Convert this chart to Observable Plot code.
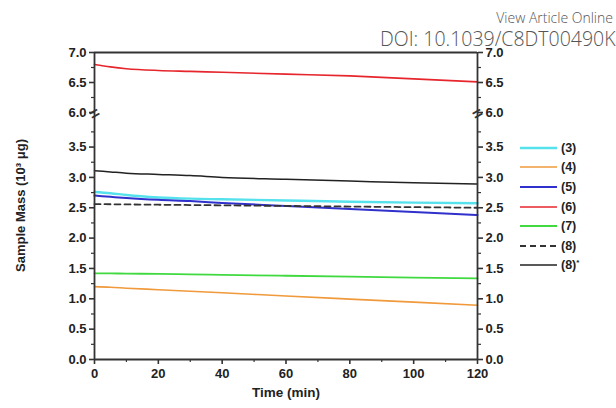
<!DOCTYPE html>
<html><head><meta charset="utf-8">
<script src="https://cdn.jsdelivr.net/npm/d3@7"></script>
<script src="https://cdn.jsdelivr.net/npm/@observablehq/plot@0.6"></script>
<style>
html,body{margin:0;padding:0;background:#fff;}
body{width:616px;height:408px;overflow:hidden;position:relative;font-family:"Liberation Sans",Arial,sans-serif;}
.chart{position:absolute;left:0;top:0;}
.wm{position:absolute;font-family:"Open Sans",sans-serif;font-weight:300;color:#555;line-height:1;white-space:nowrap;}
#wmA{top:11px;right:3px;font-size:14px;}
#wmB{top:29px;left:380px;font-size:19.5px;}
#legend{position:absolute;left:520px;top:138px;font-weight:bold;font-size:12.5px;color:#222;}
#legend .row{display:flex;align-items:center;height:19.6px;}
#legend .row span{margin-left:4px;}
</style></head>
<body>
<div id="lower" class="chart"></div>
<div id="upper" class="chart"></div>
<div id="ylab" class="chart"></div>
<div id="wmA" class="wm">View Article Online</div>
<div id="wmB" class="wm">DOI: 10.1039/C8DT00490K</div>
<div id="legend"></div>
<script>
const times = [0, 5, 10, 20, 30, 40, 60, 80, 100, 120];
const s3 = [2.76, 2.74, 2.71, 2.67, 2.65, 2.64, 2.62, 2.60, 2.585, 2.575];
const s4 = [1.20, 1.19, 1.175, 1.15, 1.125, 1.10, 1.045, 0.995, 0.945, 0.895];
const s5 = [2.70, 2.68, 2.66, 2.63, 2.61, 2.58, 2.53, 2.48, 2.43, 2.38];
const s6 = [6.80, 6.76, 6.73, 6.70, 6.685, 6.67, 6.64, 6.61, 6.56, 6.51];
const s7 = [1.42, 1.418, 1.415, 1.41, 1.402, 1.395, 1.38, 1.365, 1.35, 1.335];
const s8 = [2.56, 2.558, 2.555, 2.55, 2.545, 2.54, 2.53, 2.52, 2.51, 2.50];
const s8s = [3.11, 3.09, 3.07, 3.05, 3.03, 3.00, 2.97, 2.94, 2.91, 2.89];

const seriesNames = ["(3)", "(4)", "(5)", "(6)", "(7)", "(8)", "(8)*"];
const seriesValues = [s3, s4, s5, s6, s7, s8, s8s];
const seriesColors = ["#55e2ec", "#f09a3c", "#3030cc", "#e6262c", "#40da40", "#333333", "#222222"];
const seriesWidths = [2.4, 1.6, 2, 1.6, 1.8, 1.8, 1.5];
const seriesDash = [null, null, null, null, null, "6,4", null];

const lowerDomain = [0, 4.02];
const upperDomain = [5.95, 7];
const yMajorLower = [0, 0.5, 1.0, 1.5, 2.0, 2.5, 3.0, 3.5];
const yMinorLower = [0.25, 0.75, 1.25, 1.75, 2.25, 2.75, 3.25, 3.75];
const yMajorUpper = [6.0, 6.5, 7.0];
const yMinorUpper = [6.25, 6.75];
const xMajor = [0, 20, 40, 60, 80, 100, 120];
const xMinor = [10, 30, 50, 70, 90, 110];
const breakAt = 5.98;

const yLabel = "Sample Mass (10³ μg)";
const xLabel = "Time (min)";

const fmt = d3.format(".1f");
const blank = () => "";
const style = {fontFamily: "Liberation Sans, Arial, sans-serif", fontWeight: "bold", fontSize: "13px", color: "#222", background: "transparent", overflow: "visible"};

function seriesMarks(domain) {
  const out = [];
  seriesNames.forEach((name, i) => {
    const data = times.map((t, j) => ({t, v: seriesValues[i][j], series: name}))
      .filter(d => d.v >= domain[0] && d.v <= domain[1]);
    if (data.length) out.push(Plot.line(data, {x: "t", y: "v", stroke: seriesColors[i], strokeWidth: seriesWidths[i], strokeDasharray: seriesDash[i] ?? undefined, curve: "monotone-x"}));
  });
  return out;
}

function yAxes(major, minor) {
  return [
    Plot.axisY({anchor: "left", ticks: major, tickSize: 5, tickPadding: 3, tickFormat: fmt, label: null, strokeWidth: 1.6, stroke: "#333", fill: "#222"}),
    Plot.axisY({anchor: "left", ticks: minor, tickSize: 3, tickFormat: blank, label: null, strokeWidth: 1.2, stroke: "#333"}),
    Plot.axisY({anchor: "right", ticks: major, tickSize: 5, tickPadding: 3, tickFormat: fmt, label: null, strokeWidth: 1.6, stroke: "#333", fill: "#222"}),
    Plot.axisY({anchor: "right", ticks: minor, tickSize: 3, tickFormat: blank, label: null, strokeWidth: 1.2, stroke: "#333"})
  ];
}

// lower panel: 0 – 4.02
const lower = Plot.plot({
  width: 616, height: 408,
  marginLeft: 94, marginRight: 139, marginTop: 115, marginBottom: 49,
  x: {domain: [0, 120], axis: null},
  y: {domain: lowerDomain, axis: null},
  style,
  marks: [
    ...seriesMarks(lowerDomain),
    Plot.ruleX([0, 120], {stroke: "#333", strokeWidth: 1.8}),
    Plot.ruleY([0], {stroke: "#333", strokeWidth: 1.8}),
    Plot.axisX({ticks: xMajor, tickSize: 5, tickPadding: 4, label: null, strokeWidth: 1.6, stroke: "#333", fill: "#222"}),
    Plot.axisX({ticks: xMinor, tickSize: 3, tickFormat: blank, label: null, strokeWidth: 1.2, stroke: "#333"}),
    ...yAxes(yMajorLower, yMinorLower),
    Plot.text([xLabel], {frameAnchor: "bottom", dy: 37, fontSize: 13.5, fill: "#222"})
  ]
});
document.getElementById("lower").append(lower);

// upper panel: 5.95 – 7
const upper = Plot.plot({
  width: 616, height: 118,
  marginLeft: 94, marginRight: 139, marginTop: 52, marginBottom: 3,
  x: {domain: [0, 120], axis: null},
  y: {domain: upperDomain, axis: null},
  style,
  marks: [
    ...seriesMarks(upperDomain),
    Plot.ruleX([0, 120], {stroke: "#333", strokeWidth: 1.8}),
    Plot.ruleY([7], {stroke: "#333", strokeWidth: 1.8}),
    ...yAxes(yMajorUpper, yMinorUpper),
    Plot.text([0, 120], {x: d => d, y: () => breakAt, text: () => "=", rotate: -30, fontSize: 17, fill: "#333"})
  ]
});
document.getElementById("upper").append(upper);

// rotated y-axis title, centred at the middle of the whole plotting height
const ylab = Plot.plot({
  width: 40, height: 410,
  margin: 0,
  style,
  marks: [Plot.text([yLabel], {frameAnchor: "middle", rotate: -90, fontSize: 13, fill: "#222"})]
});
document.getElementById("ylab").append(ylab);

const legend = document.getElementById("legend");
seriesNames.forEach((name, i) => {
  const row = document.createElement("div");
  row.className = "row";
  const dash = seriesDash[i] ? ` stroke-dasharray="${seriesDash[i]}"` : "";
  const label = name === "(8)*" ? `(8)<sup style="font-size:8px;vertical-align:4px">*</sup>` : name;
  row.innerHTML = `<svg width="37" height="6"><line x1="0" x2="37" y1="3" y2="3" stroke="${seriesColors[i]}" stroke-width="${seriesWidths[i]}"${dash}/></svg><span>${label}</span>`;
  legend.append(row);
});
</script>
</body></html>
